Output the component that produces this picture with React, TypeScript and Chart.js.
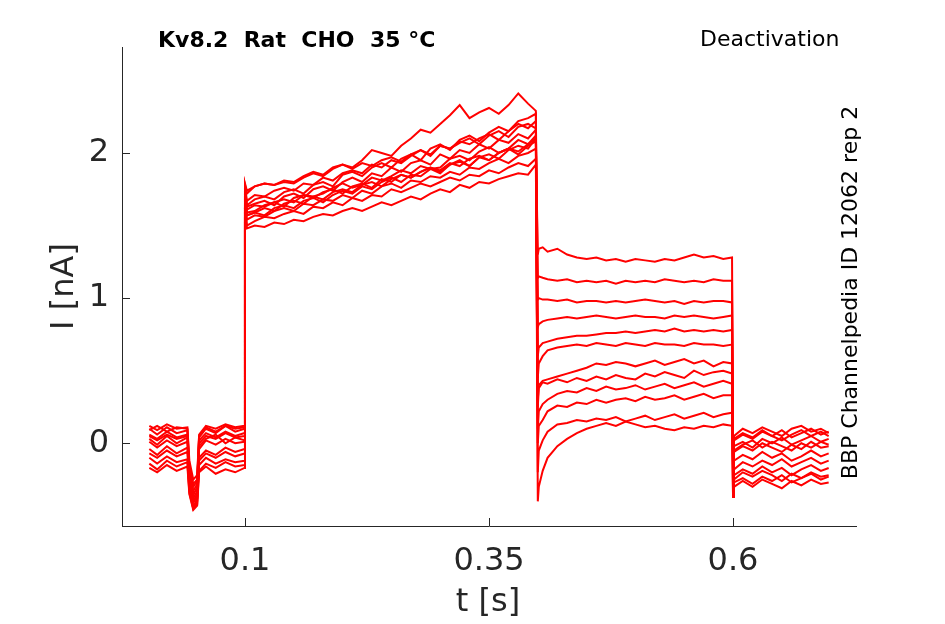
import { useEffect, useRef } from "react";
import { Chart, registerables } from "chart.js";

Chart.register(...registerables);

const X_TICKS = [0.1, 0.35, 0.6];
const Y_TICKS = [0, 1, 2];
const X_MIN = -0.026;
const X_MAX = 0.726;
const Y_MIN = -0.57;
const Y_MAX = 2.73;

const TITLE_LEFT = "Kv8.2  Rat  CHO  35 °C";
const TITLE_RIGHT = "Deactivation";
const SIDE_NOTE = "BBP Channelpedia ID 12062 rep 2";
const X_LABEL = "t [s]";
const Y_LABEL = "I [nA]";

// time samples (s) for each protocol segment
const T_PRE = [0.002, 0.01, 0.02, 0.03, 0.041, 0.043, 0.047, 0.051, 0.053, 0.06, 0.07, 0.08, 0.09, 0.0995];
const T_ON = [0.1, 0.102, 0.11, 0.12, 0.13, 0.14, 0.15, 0.16, 0.17, 0.18, 0.19, 0.2, 0.21, 0.22, 0.23, 0.24, 0.25, 0.26, 0.27, 0.28, 0.29, 0.3, 0.31, 0.32, 0.33, 0.34, 0.35, 0.36, 0.37, 0.38, 0.39, 0.398];
const T_TAIL = [0.4, 0.401, 0.405, 0.41, 0.42, 0.43, 0.44, 0.45, 0.46, 0.47, 0.48, 0.49, 0.5, 0.51, 0.52, 0.53, 0.54, 0.55, 0.56, 0.57, 0.58, 0.59, 0.599];
const T_OFF = [0.6, 0.601, 0.61, 0.62, 0.63, 0.64, 0.65, 0.66, 0.67, 0.68, 0.69, 0.698];

// current (nA), one row per sweep
const I_PRE = [
  [0.1, 0.06, 0.11, 0.07, 0.09, -0.2, -0.33, -0.28, 0.04, 0.1, 0.07, 0.12, 0.08, 0.1],
  [0.03, -0.01, 0.05, 0.0, 0.04, -0.28, -0.4, -0.35, -0.02, 0.03, 0.06, 0.0, 0.04, 0.02],
  [-0.04, -0.08, -0.02, -0.07, -0.03, -0.3, -0.45, -0.42, -0.1, -0.05, -0.08, -0.03, -0.06, -0.04],
  [0.12, 0.09, 0.13, 0.1, 0.11, -0.12, -0.25, -0.22, 0.06, 0.12, 0.1, 0.13, 0.11, 0.12],
  [-0.1, -0.14, -0.09, -0.13, -0.11, -0.32, -0.44, -0.38, -0.15, -0.1, -0.14, -0.11, -0.13, -0.12],
  [0.06, 0.03, 0.08, 0.04, 0.06, -0.18, -0.3, -0.26, 0.02, 0.07, 0.04, 0.08, 0.05, 0.07],
  [-0.17, -0.2, -0.15, -0.19, -0.16, -0.35, -0.46, -0.43, -0.2, -0.16, -0.21, -0.18, -0.2, -0.17],
  [0.01, -0.03, 0.02, -0.02, 0.01, -0.22, -0.36, -0.3, -0.04, 0.02, -0.01, 0.03, 0.0, 0.01],
  [-0.07, -0.1, -0.05, -0.09, -0.06, -0.27, -0.41, -0.37, -0.12, -0.07, -0.1, -0.06, -0.09, -0.07],
  [0.09, 0.12, 0.08, 0.11, 0.1, -0.15, -0.28, -0.25, 0.05, 0.11, 0.08, 0.12, 0.1, 0.11],
  [-0.14, -0.18, -0.12, -0.16, -0.13, -0.34, -0.45, -0.4, -0.19, -0.14, -0.17, -0.13, -0.16, -0.15],
  [0.05, 0.02, 0.06, 0.03, 0.05, -0.24, -0.38, -0.33, 0.0, 0.05, 0.03, 0.07, 0.04, 0.05],
];

const I_ON = [
  [1.72, 1.57, 1.59, 1.57, 1.62, 1.64, 1.62, 1.67, 1.69, 1.66, 1.71, 1.74, 1.72, 1.77, 1.75, 1.8, 1.83, 1.8, 1.85, 1.84, 1.89, 1.86, 1.92, 1.94, 1.91, 1.97, 1.95, 2.0, 2.03, 1.99, 2.05, 2.08],
  [1.76, 1.63, 1.65, 1.67, 1.64, 1.7, 1.72, 1.69, 1.75, 1.77, 1.74, 1.8, 1.83, 1.8, 1.86, 1.84, 1.9, 1.87, 1.93, 1.95, 1.92, 1.99, 1.96, 2.02, 2.0, 2.06, 2.03, 2.09, 2.07, 2.13, 2.1, 2.16],
  [1.66, 1.5, 1.53, 1.56, 1.55, 1.58, 1.6, 1.58, 1.63, 1.62, 1.66, 1.64, 1.69, 1.67, 1.71, 1.7, 1.75, 1.73, 1.76, 1.79, 1.77, 1.8, 1.83, 1.81, 1.85, 1.84, 1.88, 1.86, 1.9, 1.93, 1.91, 1.96],
  [1.79, 1.74, 1.77, 1.79, 1.78, 1.8, 1.79, 1.83, 1.86, 1.84, 1.89, 1.92, 1.9, 1.95, 2.02, 2.0, 1.98, 2.05, 2.1, 2.16, 2.14, 2.2, 2.26, 2.33, 2.24, 2.28, 2.31, 2.27, 2.33, 2.41, 2.34, 2.29],
  [1.74, 1.59, 1.6, 1.64, 1.66, 1.63, 1.69, 1.71, 1.7, 1.72, 1.76, 1.79, 1.76, 1.78, 1.83, 1.81, 1.84, 1.88, 1.86, 1.91, 1.89, 1.9, 1.96, 1.98, 1.95, 2.01, 2.04, 2.0, 2.03, 2.09, 2.06, 2.12],
  [1.77, 1.67, 1.71, 1.7, 1.74, 1.76, 1.74, 1.79, 1.78, 1.83, 1.81, 1.86, 1.88, 1.86, 1.92, 1.9, 1.95, 1.93, 1.98, 2.02, 1.99, 2.05, 2.03, 2.07, 2.1, 2.06, 2.12, 2.15, 2.11, 2.18, 2.2, 2.17],
  [1.7, 1.54, 1.57, 1.56, 1.6, 1.62, 1.6, 1.65, 1.64, 1.68, 1.67, 1.71, 1.69, 1.74, 1.72, 1.77, 1.79, 1.76, 1.81, 1.8, 1.84, 1.83, 1.87, 1.85, 1.9, 1.89, 1.93, 1.96, 1.93, 1.98, 2.0, 2.03],
  [1.76, 1.64, 1.68, 1.7, 1.68, 1.73, 1.75, 1.72, 1.78, 1.8, 1.77, 1.85, 1.87, 1.84, 1.9, 1.93, 1.9, 1.96, 1.99, 1.95, 2.03, 2.06, 2.02, 2.09, 2.12, 2.08, 2.14, 2.18, 2.15, 2.22, 2.24, 2.27],
  [1.62, 1.48, 1.5, 1.49, 1.52, 1.51, 1.54, 1.53, 1.56, 1.58, 1.57, 1.6, 1.62, 1.6, 1.63, 1.66, 1.64, 1.67, 1.7, 1.68, 1.72, 1.75, 1.73, 1.78, 1.76, 1.8, 1.79, 1.82, 1.84, 1.86, 1.85, 1.92],
  [1.73, 1.57, 1.59, 1.62, 1.6, 1.65, 1.67, 1.65, 1.7, 1.68, 1.73, 1.75, 1.73, 1.78, 1.8, 1.77, 1.82, 1.85, 1.83, 1.87, 1.9, 1.88, 1.93, 1.91, 1.96, 1.98, 1.95, 2.0, 2.03, 2.01, 2.06, 2.1],
  [1.78, 1.72, 1.77, 1.79, 1.78, 1.81, 1.8, 1.84, 1.87, 1.85, 1.9, 1.92, 1.89, 1.93, 1.91, 1.95, 1.97, 1.94, 1.99, 2.02, 1.98, 2.05, 2.03, 2.08, 2.06, 2.1, 2.13, 2.09, 2.15, 2.2, 2.17, 2.22],
  [1.74, 1.61, 1.64, 1.63, 1.66, 1.68, 1.66, 1.71, 1.69, 1.73, 1.75, 1.72, 1.77, 1.79, 1.76, 1.82, 1.8, 1.85, 1.83, 1.87, 1.9, 1.87, 1.92, 1.95, 1.91, 1.97, 1.99, 1.96, 2.02, 2.05, 2.03, 2.1],
];

const I_TAIL = [
  [1.3, 1.34, 1.35, 1.32, 1.34, 1.3, 1.28, 1.27, 1.28, 1.26, 1.27, 1.25, 1.27, 1.26, 1.25, 1.27, 1.26, 1.28, 1.3, 1.28, 1.29, 1.27, 1.28],
  [1.14, 1.15, 1.14, 1.13, 1.12, 1.13, 1.11, 1.12, 1.11, 1.12, 1.1, 1.12, 1.11, 1.12, 1.11, 1.13, 1.12, 1.11, 1.12, 1.11, 1.13, 1.12, 1.12],
  [0.99, 1.0, 0.99, 0.99, 0.98, 0.99, 0.97, 0.98, 0.98, 0.97, 0.98, 0.97, 0.98, 0.99, 0.98, 0.97, 0.98, 0.96, 0.98, 0.97, 0.98, 0.98, 0.97],
  [0.8, 0.82, 0.84, 0.85, 0.86, 0.87, 0.86, 0.87, 0.88, 0.87, 0.86, 0.87, 0.88, 0.87, 0.87, 0.86, 0.88, 0.87, 0.88, 0.87, 0.86, 0.87, 0.88],
  [0.6, 0.66, 0.69, 0.7, 0.72, 0.73, 0.74, 0.74, 0.75, 0.76, 0.76, 0.77, 0.76, 0.77, 0.78, 0.77, 0.79, 0.77, 0.78, 0.77, 0.78, 0.77, 0.78],
  [0.45, 0.55, 0.6, 0.64, 0.66, 0.67, 0.68, 0.67, 0.69, 0.68, 0.67, 0.69, 0.68, 0.67, 0.69, 0.68, 0.68, 0.67, 0.69, 0.68, 0.68, 0.67, 0.68],
  [0.3, 0.4, 0.43, 0.44, 0.46, 0.48, 0.5, 0.52, 0.55, 0.54, 0.56, 0.55, 0.53, 0.55, 0.57, 0.54, 0.56, 0.58, 0.55, 0.57, 0.53, 0.56, 0.55],
  [0.25, 0.38, 0.42, 0.41, 0.44, 0.42, 0.45, 0.43, 0.46, 0.44, 0.47, 0.45, 0.44, 0.48, 0.46, 0.49, 0.47, 0.45, 0.5, 0.47, 0.49, 0.5, 0.48],
  [0.1, 0.22, 0.27, 0.3, 0.34, 0.36, 0.35, 0.38, 0.36, 0.39, 0.37, 0.38, 0.4, 0.37, 0.39, 0.41, 0.38, 0.4, 0.42, 0.39, 0.41, 0.43, 0.41],
  [0.0, 0.12, 0.16, 0.22, 0.26, 0.25, 0.28, 0.27, 0.3, 0.28, 0.3, 0.31, 0.29, 0.32, 0.3, 0.31, 0.33, 0.3, 0.32, 0.34, 0.31, 0.33, 0.33],
  [-0.2, -0.05, 0.02, 0.08, 0.13, 0.14, 0.16, 0.15, 0.17, 0.16, 0.18, 0.15, 0.17, 0.19, 0.16, 0.18, 0.2, 0.17, 0.19, 0.21, 0.18, 0.2, 0.21],
  [-0.4, -0.3, -0.19, -0.1, -0.02, 0.03, 0.07, 0.1, 0.12, 0.14, 0.12, 0.15, 0.13, 0.11, 0.12, 0.1, 0.09, 0.11, 0.1, 0.12, 0.11, 0.13, 0.12],
];

const I_OFF = [
  [-0.1, 0.02, 0.06, 0.03, 0.08, 0.05, 0.09, 0.04, 0.07, 0.1, 0.06, 0.08],
  [-0.15, -0.06, -0.02, -0.05, 0.0, -0.03, -0.06, -0.01, -0.04, 0.01, -0.03, -0.02],
  [-0.3, -0.22, -0.18, -0.21, -0.16, -0.2, -0.17, -0.22, -0.18, -0.15, -0.19, -0.17],
  [-0.05, 0.05, 0.1, 0.07, 0.11, 0.08, 0.05, 0.1, 0.12, 0.08, 0.1, 0.07],
  [-0.28, -0.18, -0.13, -0.16, -0.12, -0.15, -0.11, -0.16, -0.13, -0.1, -0.14, -0.12],
  [-0.12, -0.02, 0.01, -0.03, 0.03, 0.0, 0.04, -0.01, 0.02, 0.05, 0.01, 0.03],
  [-0.37, -0.27, -0.24, -0.28, -0.23, -0.26, -0.22, -0.27, -0.24, -0.21, -0.25, -0.23],
  [-0.2, -0.12, -0.08, -0.11, -0.06, -0.1, -0.07, -0.12, -0.09, -0.05, -0.09, -0.07],
  [-0.33, -0.25, -0.2, -0.23, -0.19, -0.22, -0.26, -0.21, -0.24, -0.2, -0.23, -0.22],
  [-0.08, 0.03, 0.07, 0.04, 0.09, 0.05, 0.02, 0.06, 0.09, 0.05, 0.08, 0.05],
  [-0.36, -0.3, -0.26, -0.3, -0.25, -0.28, -0.31, -0.26, -0.29, -0.25, -0.28, -0.27],
  [-0.14, -0.05, -0.01, 0.02, -0.03, 0.01, -0.02, -0.05, 0.0, -0.03, 0.01, -0.01],
];

const FONT = '"DejaVu Sans", "Liberation Sans", sans-serif';
const AXIS_COLOR = "#262626";
const TRACE_COLOR = "#ff0000";

const decorPlugin = {
  id: "decor",
  afterDraw(chart: any) {
    const { ctx, chartArea, scales } = chart;
    const xs = scales.x;
    const ys = scales.y;
    ctx.save();
    // inward tick marks
    ctx.strokeStyle = AXIS_COLOR;
    ctx.lineWidth = 1;
    ctx.beginPath();
    X_TICKS.forEach((v) => {
      const px = Math.round(xs.getPixelForValue(v)) + 0.5;
      ctx.moveTo(px, chartArea.bottom);
      ctx.lineTo(px, chartArea.bottom - 8);
    });
    Y_TICKS.forEach((v) => {
      const py = Math.round(ys.getPixelForValue(v)) + 0.5;
      ctx.moveTo(chartArea.left, py);
      ctx.lineTo(chartArea.left + 8, py);
    });
    ctx.stroke();

    // axis titles
    ctx.fillStyle = AXIS_COLOR;
    ctx.font = `32px ${FONT}`;
    ctx.textAlign = "center";
    ctx.textBaseline = "alphabetic";
    ctx.fillText(X_LABEL, (chartArea.left + chartArea.right) / 2 - 1, 611);
    ctx.save();
    ctx.translate(73, (chartArea.top + chartArea.bottom) / 2);
    ctx.rotate(-Math.PI / 2);
    ctx.fillText(Y_LABEL, 0, 0);
    ctx.restore();

    // annotations
    ctx.fillStyle = "#000000";
    ctx.textAlign = "left";
    ctx.font = `bold 22px ${FONT}`;
    ctx.fillText(TITLE_LEFT, 158, 47);
    ctx.font = `22px ${FONT}`;
    ctx.fillText(TITLE_RIGHT, 700, 46);
    ctx.save();
    ctx.translate(857, 292.5);
    ctx.rotate(-Math.PI / 2);
    ctx.textAlign = "center";
    ctx.fillText(SIDE_NOTE, 0, 0);
    ctx.restore();
    ctx.restore();
  },
};

export default function App() {
  const canvasRef = useRef<HTMLCanvasElement | null>(null);

  useEffect(() => {
    const canvas = canvasRef.current;
    if (!canvas) return;
    const times = [...T_PRE, ...T_ON, ...T_TAIL, ...T_OFF];
    const datasets = I_PRE.map((_, k) => {
      const vals = [...I_PRE[k], ...I_ON[k], ...I_TAIL[k], ...I_OFF[k]];
      return {
        data: times.map((t, i) => ({ x: t, y: vals[i] })),
        borderColor: TRACE_COLOR,
        borderWidth: 2,
        pointRadius: 0,
        tension: 0,
        fill: false,
      };
    });

    const chart = new Chart(canvas, {
      type: "line",
      data: { datasets },
      options: {
        responsive: false,
        animation: false,
        devicePixelRatio: 1,
        layout: { padding: { top: 47, right: 89, bottom: 0, left: 0 } },
        plugins: {
          legend: { display: false },
          tooltip: { enabled: false },
          title: { display: false },
        },
        scales: {
          x: {
            type: "linear",
            min: X_MIN,
            max: X_MAX,
            afterBuildTicks: (s: any) => {
              s.ticks = X_TICKS.map((v) => ({ value: v }));
            },
            afterFit: (s: any) => {
              s.height = 98;
            },
            ticks: {
              autoSkip: false,
              maxRotation: 0,
              padding: 16,
              color: AXIS_COLOR,
              font: { family: FONT, size: 32 },
              callback: (v: any) => String(v),
            },
            grid: { display: true, drawOnChartArea: false, drawTicks: false },
            border: { display: true, color: AXIS_COLOR, width: 1 },
          },
          y: {
            type: "linear",
            min: Y_MIN,
            max: Y_MAX,
            afterBuildTicks: (s: any) => {
              s.ticks = Y_TICKS.map((v) => ({ value: v }));
            },
            afterFit: (s: any) => {
              s.width = 122;
            },
            ticks: {
              autoSkip: false,
              padding: 13,
              color: AXIS_COLOR,
              font: { family: FONT, size: 32 },
              callback: (v: any) => String(v),
            },
            grid: { display: true, drawOnChartArea: false, drawTicks: false },
            border: { display: true, color: AXIS_COLOR, width: 1 },
          },
        },
      },
      plugins: [decorPlugin],
    });
    return () => chart.destroy();
  }, []);

  return (
    <div style={{ position: "fixed", left: 0, top: 0, width: 945, height: 624, background: "#ffffff" }}>
      <canvas ref={canvasRef} width={945} height={624} style={{ width: 945, height: 624 }} />
    </div>
  );
}
